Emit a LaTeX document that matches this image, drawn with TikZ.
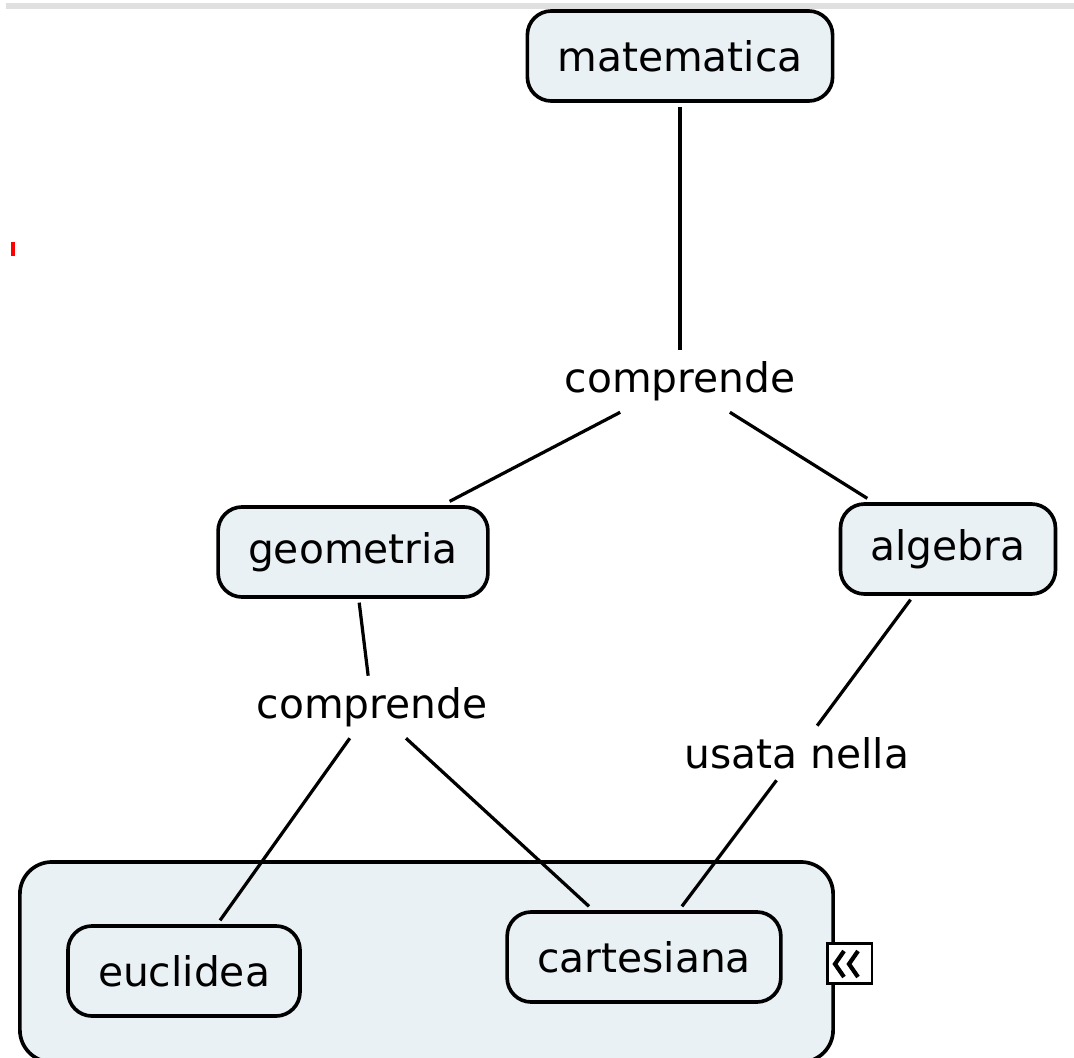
\documentclass[tikz,border=0pt]{standalone}
\usepackage{fontspec}
\setmainfont{DejaVu Sans}
\usepackage{xcolor}
\definecolor{conceptfill}{RGB}{233,241,245}

\begin{document}
\begin{tikzpicture}[x=0.025cm, y=-0.025cm]

        % 1. Page frame and the marks on it
        \clip (0,0) rectangle (1074,1058);
        \fill[black!12] (6,3) rectangle (1074,9);
        \fill[red] (11,242) rectangle (15,256);

        % 2. Styles for concepts, linking words and connectors
        \tikzset{concept/.style={draw, line width=2.6pt, fill=conceptfill, rounded corners=0.6cm,
                 inner xsep=0.75cm, minimum height=2.25cm, outer sep=4pt,
                 font=\fontsize{29}{35}\selectfont}}
        \tikzset{linkword/.style={inner xsep=10pt, inner ysep=8pt, font=\fontsize{29}{35}\selectfont}}
        \tikzset{link/.style={line width=2.3pt}}

        % 3. Group box round the two kinds of geometry
        \node[draw, line width=2.6pt, fill=conceptfill, rounded corners=0.8cm,
              minimum width=20.325cm, minimum height=5cm] (gruppo) at (426.5,962) {};

        % 4. Concepts
        \node[concept] (matematica) at (680,56) {matematica};
        \node[concept] (geometria) at (353,552) {geometria};
        \node[concept] (algebra) at (948,549) {algebra};
        \node[concept] (euclidea) at (184,971) {euclidea};
        \node[concept] (cartesiana) at (644,957) {cartesiana};

        % 5. Linking words
        \node[linkword] (comprendeA) at (680,381) {comprende};
        \node[linkword] (comprendeB) at (372,707) {comprende};
        \node[linkword] (usata) at (797,753) {usata nella};

        % 6. Connectors
        \draw[link] (matematica) -- (comprendeA);
        \draw[link] (comprendeA) -- (geometria);
        \draw[link] (comprendeA) -- (algebra);
        \draw[link] (geometria) -- (comprendeB);
        \draw[link] (comprendeB) -- (euclidea);
        \draw[link] (comprendeB) -- (cartesiana);
        \draw[link] (algebra) -- (usata);
        \draw[link] (usata) -- (cartesiana);

        % 7. Collapse button on the group box
        \node[draw, fill=white, line width=2pt, minimum width=1.12cm, minimum height=0.98cm,
              inner sep=0pt] (apri) at (849.5,963.5) {};
        \draw[line width=3pt] (844,951) -- (835,964) -- (844,977);
        \draw[line width=3pt] (858,951) -- (849,964) -- (858,977);

\end{tikzpicture}
\end{document}
